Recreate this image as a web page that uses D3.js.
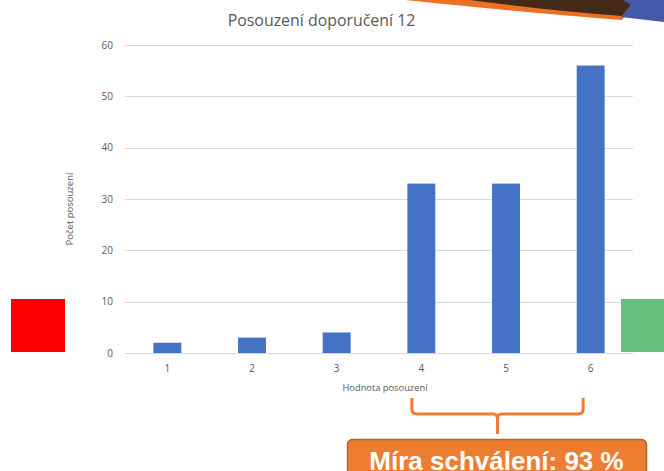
<!DOCTYPE html>
<html>
<head>
<meta charset="utf-8">
<script src="https://cdn.jsdelivr.net/npm/d3@7"></script>
<style>
  body { margin: 0; background: #fff; }
  svg { display: block; }
</style>
</head>
<body>
<svg width="664" height="471"></svg>
<script>
const categories = ["1", "2", "3", "4", "5", "6"];
const counts = [2, 3, 4, 33, 33, 56];
const yTicks = [0, 10, 20, 30, 40, 50, 60];
const title = "Posouzení doporučení 12";
const xTitle = "Hodnota posouzení";
const yTitle = "Počet posouzení";
const approval = "Míra schválení: 93 %";

const svg = d3.select("svg");
const plotLeft = 125, plotRight = 633, plotTop = 45, plotBottom = 353;

const x = d3.scaleBand(categories, [plotLeft, plotRight]).paddingInner(0.67).paddingOuter(0.335);
const y = d3.scaleLinear([0, 60], [plotBottom, plotTop]);

// decoration strip at the top right
svg.append("path")
  .attr("d", "M405,0 L640,0 L622,20 Q520,12 405,0 Z")
  .style("fill", "#ec7124");
svg.append("path")
  .attr("d", "M470,0 L625,0 L631,5 L622,16 Q560,12 470,0 Z")
  .style("fill", "#432a17");
svg.append("path")
  .attr("d", "M623,0 L664,0 L664,22 L621,17 L631,5 Z")
  .style("fill", "#4459a9");

// gridlines
svg.append("g")
  .selectAll("line")
  .data(yTicks)
  .join("line")
  .attr("x1", plotLeft)
  .attr("x2", plotRight)
  .attr("y1", (d) => Math.round(y(d)) + 0.5)
  .attr("y2", (d) => Math.round(y(d)) + 0.5)
  .style("stroke", "#d9d9d9")
  .style("stroke-width", 1);

// y tick labels
svg.append("g")
  .selectAll("text")
  .data(yTicks)
  .join("text")
  .text((d) => d)
  .attr("x", 113)
  .attr("y", (d) => y(d) + 3.5)
  .attr("text-anchor", "end")
  .style("font", "10px 'Open Sans', sans-serif")
  .style("fill", "#595959");

// bars
svg.append("g")
  .selectAll("rect")
  .data(counts)
  .join("rect")
  .attr("x", (d, i) => x(categories[i]))
  .attr("width", x.bandwidth())
  .attr("y", (d) => y(d))
  .attr("height", (d) => y(0) - y(d))
  .style("fill", "#4472c4");

// x tick labels
svg.append("g")
  .selectAll("text")
  .data(categories)
  .join("text")
  .text((d) => d)
  .attr("x", (d) => x(d) + x.bandwidth() / 2)
  .attr("y", 372)
  .attr("text-anchor", "middle")
  .style("font", "10px 'Open Sans', sans-serif")
  .style("fill", "#595959");

svg.append("text")
  .text(title)
  .attr("x", 321.5)
  .attr("y", 26)
  .attr("text-anchor", "middle")
  .style("font", "15.9px 'Open Sans', sans-serif")
  .style("fill", "#595959");

svg.append("text")
  .text(xTitle)
  .attr("x", 385)
  .attr("y", 391)
  .attr("text-anchor", "middle")
  .style("font", "9.3px 'Open Sans', sans-serif")
  .style("fill", "#595959");

svg.append("text")
  .text(yTitle)
  .attr("transform", "translate(73,209) rotate(-90)")
  .attr("text-anchor", "middle")
  .style("font", "9.5px 'Open Sans', sans-serif")
  .style("fill", "#595959");

// traffic light squares
svg.append("rect").attr("x", 11).attr("y", 299).attr("width", 54).attr("height", 53).style("fill", "#ff0000");
svg.append("rect").attr("x", 621).attr("y", 299).attr("width", 50).attr("height", 53).style("fill", "#66bf7a");

// brace over categories 4..6
const bx1 = x("4") + 4.5, bx2 = x("6") + x.bandwidth() - 21.5, bm = (bx1 + bx2) / 2;
svg.append("path")
  .attr("d", `M${bx1},398 L${bx1},409 Q${bx1},414 ${bx1 + 5},414 L${bm - 4},414 Q${bm},414 ${bm},419 L${bm},434 M${bm},419 Q${bm},414 ${bm + 4},414 L${bx2 - 5},414 Q${bx2},414 ${bx2},409 L${bx2},398`)
  .style("fill", "none")
  .style("stroke", "#ed7d31")
  .style("stroke-width", 3);

svg.append("rect")
  .attr("x", 347.5)
  .attr("y", 439.5)
  .attr("width", 299)
  .attr("height", 50)
  .attr("rx", 5)
  .style("fill", "#ed7d31")
  .style("stroke", "#b8621f")
  .style("stroke-width", 1.5);

svg.append("text")
  .text(approval)
  .attr("x", 496.5)
  .attr("y", 470)
  .attr("text-anchor", "middle")
  .style("font", "bold 26px 'Liberation Sans', Arial, sans-serif")
  .style("fill", "#fff");
</script>
</body>
</html>
